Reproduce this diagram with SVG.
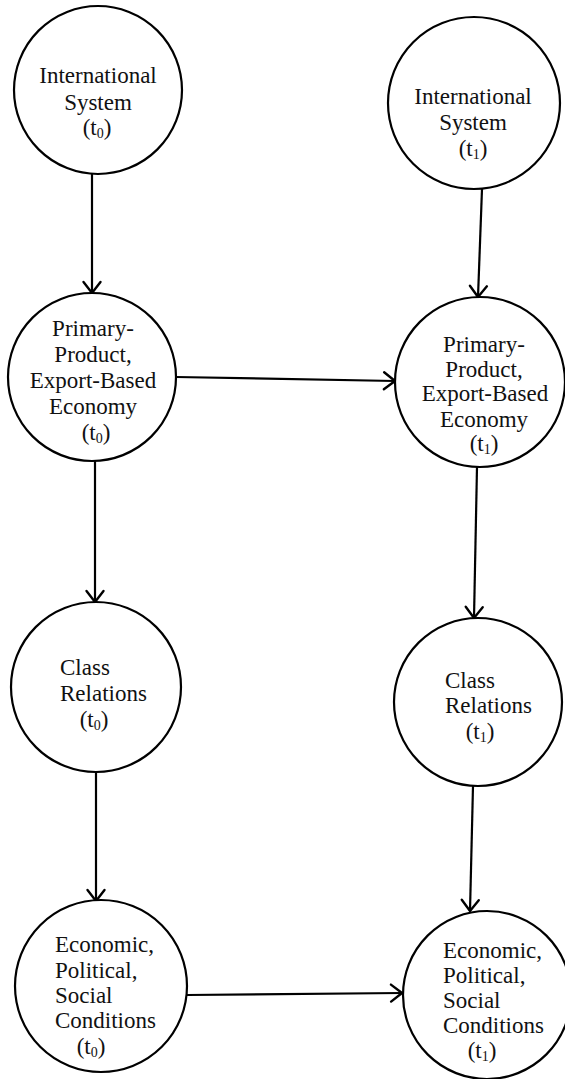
<svg xmlns="http://www.w3.org/2000/svg" width="565" height="1079" viewBox="0 0 565 1079">
  <style>
    .node { fill: #fff; stroke: #000; stroke-width: 2.2; }
    .lbl { font-family: "Liberation Serif", "Times New Roman", serif; font-size: 23px; fill: #111; }
    .mid { text-anchor: middle; }
    .sub { font-size: 14px; }
    .edge { fill: none; stroke: #000; stroke-width: 2.2; }
  </style>
  <defs>
    <marker id="chev" markerUnits="userSpaceOnUse" markerWidth="30" markerHeight="30" viewBox="-15 -15 30 30" refX="0" refY="0" orient="auto">
      <path d="M -11 -8.5 L 0 0 L -11 8.5" fill="none" stroke="#000" stroke-width="2.4" stroke-linecap="round" stroke-linejoin="round"/>
    </marker>
  </defs>
  <rect width="565" height="1079" fill="#fff"/>

  <g id="connectors">
    <line class="edge" x1="92" y1="174" x2="92" y2="293" marker-end="url(#chev)"/>
    <line class="edge" x1="482" y1="189" x2="478" y2="297" marker-end="url(#chev)"/>
    <line class="edge" x1="176" y1="377" x2="395" y2="381" marker-end="url(#chev)"/>
    <line class="edge" x1="95" y1="461" x2="95" y2="602" marker-end="url(#chev)"/>
    <line class="edge" x1="477" y1="467" x2="474" y2="618" marker-end="url(#chev)"/>
    <line class="edge" x1="96" y1="772" x2="96" y2="901" marker-end="url(#chev)"/>
    <line class="edge" x1="473" y1="786" x2="470" y2="911" marker-end="url(#chev)"/>
    <line class="edge" x1="187" y1="995" x2="402" y2="993" marker-end="url(#chev)"/>
  </g>

  <g id="intl-t0">
    <circle class="node" cx="98" cy="90" r="84"/>
    <text class="lbl mid" x="98" y="83">International</text>
    <text class="lbl mid" x="98" y="110">System</text>
    <text class="lbl mid" x="97" y="135">(t<tspan class="sub" dy="3">0</tspan><tspan dy="-3">)</tspan></text>
  </g>

  <g id="intl-t1">
    <circle class="node" cx="474" cy="103" r="86"/>
    <text class="lbl mid" x="473" y="104">International</text>
    <text class="lbl mid" x="473" y="130">System</text>
    <text class="lbl mid" x="473" y="156">(t<tspan class="sub" dy="3">1</tspan><tspan dy="-3">)</tspan></text>
  </g>

  <g id="economy-t0">
    <circle class="node" cx="92" cy="377" r="84"/>
    <text class="lbl mid" x="93" y="336">Primary-</text>
    <text class="lbl mid" x="93" y="362">Product,</text>
    <text class="lbl mid" x="93" y="388">Export-Based</text>
    <text class="lbl mid" x="93" y="414">Economy</text>
    <text class="lbl mid" x="96" y="440">(t<tspan class="sub" dy="3">0</tspan><tspan dy="-3">)</tspan></text>
  </g>

  <g id="economy-t1">
    <circle class="node" cx="480" cy="382" r="85"/>
    <text class="lbl mid" x="484" y="352">Primary-</text>
    <text class="lbl mid" x="484" y="377">Product,</text>
    <text class="lbl mid" x="485" y="401">Export-Based</text>
    <text class="lbl mid" x="484" y="427">Economy</text>
    <text class="lbl mid" x="484" y="451">(t<tspan class="sub" dy="3">1</tspan><tspan dy="-3">)</tspan></text>
  </g>

  <g id="class-t0">
    <circle class="node" cx="96" cy="687" r="85"/>
    <text class="lbl" x="60" y="675">Class</text>
    <text class="lbl" x="60" y="701">Relations</text>
    <text class="lbl mid" x="94" y="727">(t<tspan class="sub" dy="3">0</tspan><tspan dy="-3">)</tspan></text>
  </g>

  <g id="class-t1">
    <circle class="node" cx="478" cy="702" r="84"/>
    <text class="lbl" x="445" y="688">Class</text>
    <text class="lbl" x="445" y="713">Relations</text>
    <text class="lbl mid" x="480" y="739">(t<tspan class="sub" dy="3">1</tspan><tspan dy="-3">)</tspan></text>
  </g>

  <g id="conditions-t0">
    <circle class="node" cx="101" cy="986" r="86"/>
    <text class="lbl" x="55" y="952">Economic,</text>
    <text class="lbl" x="55" y="978">Political,</text>
    <text class="lbl" x="55" y="1003">Social</text>
    <text class="lbl" x="55" y="1028">Conditions</text>
    <text class="lbl mid" x="91" y="1054">(t<tspan class="sub" dy="3">0</tspan><tspan dy="-3">)</tspan></text>
  </g>

  <g id="conditions-t1">
    <circle class="node" cx="487" cy="995" r="84"/>
    <text class="lbl" x="443" y="958">Economic,</text>
    <text class="lbl" x="443" y="983">Political,</text>
    <text class="lbl" x="443" y="1008">Social</text>
    <text class="lbl" x="443" y="1033">Conditions</text>
    <text class="lbl mid" x="482" y="1058">(t<tspan class="sub" dy="3">1</tspan><tspan dy="-3">)</tspan></text>
  </g>
</svg>
